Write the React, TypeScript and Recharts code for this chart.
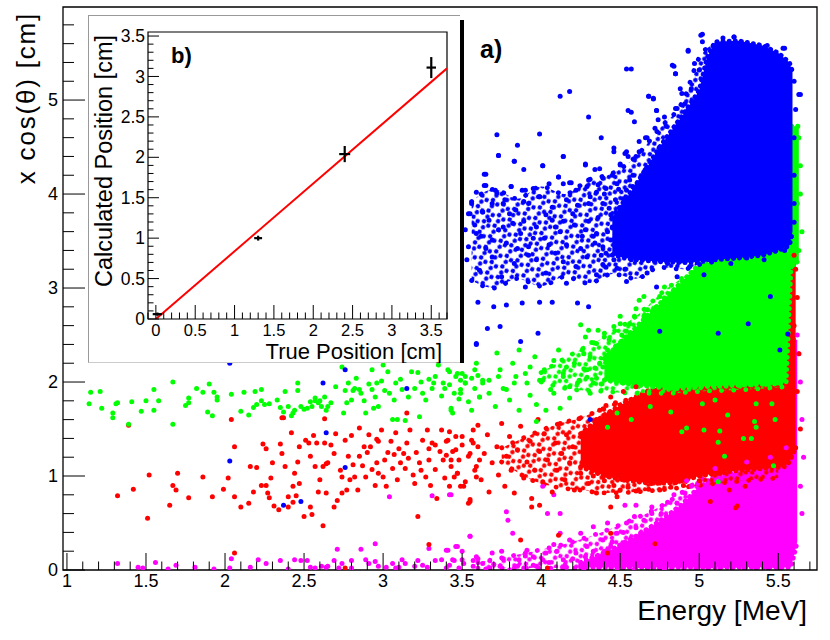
import React from 'react';
import { ComposedChart, Scatter, Area, Line, XAxis, YAxis, ReferenceArea, ErrorBar } from 'recharts';

const FONT = '"Liberation Sans", Arial, Helvetica, sans-serif';

// ================= main plot a) : x cos(theta) vs Energy =================
const magentaPts: number[][] = [
  [1.32,0.07],[1.45,0.03],[1.48,0.02],[1.56,0.08],[1.64,0.01],[1.69,0.05],[1.81,0.03],[1.93,0.01],[2.03,0.02],[2.04,0.12],
  [2.16,0.03],[2.21,0.11],[2.26,0.07],[2.35,0.1],[2.40,0.01],[2.44,0.11],[2.48,0.1],[2.52,0.1],[2.54,0.03],[2.57,0.02],
  [2.61,0.04],[2.64,0.03],[2.65,0.04],[2.69,0.1],[2.71,0.22],[2.72,0.02],[2.74,0.07],[2.80,0.1],[2.80,0.02],[2.86,0.22],
  [2.89,0.11],[2.91,0.07],[2.95,0.28],[2.95,0.09],[2.97,0.04],[3.02,0.03],[3.06,0.07],[3.08,0.02],[3.10,0.03],[3.12,0.11],
  [3.14,0.07],[3.20,0.04],[3.22,0.1],[3.25,0.05],[3.28,0.03],[3.29,0.23],[3.33,0.1],[3.37,0.11],[3.40,0.21],[3.42,0.05],
  [3.45,0.1],[3.47,0.25],[3.50,0.2],[3.51,0.07],[3.55,0.36],[3.57,0.1],[3.60,0.12],[3.04,0.78],[3.31,0.79],[3.43,0.8],
  [3.41,0.21],[3.46,0.25],[3.44,0.11],[3.50,0.11],[3.55,0.36],[3.59,0.14],[3.63,0.07],[3.69,0.18],[3.76,0.12],[3.78,0.62],
  [3.79,0.53],[3.82,0.39],[3.86,0.11],[3.91,0.21],[3.95,0.14],[4.01,0.11],[4.03,0.18],[4.04,0.6],[4.08,0.27],[4.12,0.6],
  [4.12,0.39],[4.14,0.11],[4.18,0.32],[4.22,0.18],[4.25,0.39],[4.29,0.25],[4.33,0.46],[4.35,0.11],[4.39,0.32],[4.42,0.5],
  [4.44,0.25],[4.48,0.39],[4.50,0.11],[4.53,0.69],[4.54,0.5],[4.57,0.32],[4.59,0.57],[4.60,0.69],[4.63,0.39],[4.65,0.53],
  [4.67,0.18],[4.70,0.67],[4.73,0.46],[4.76,0.6],[4.78,0.32],[4.82,0.57],[4.84,0.8],[4.86,0.71],[4.91,0.82],[4.95,0.89],
  [4.99,0.92],[5.65,0.6],[5.64,0.89],[4.01,0.89],[4.08,0.8],[3.42,0.8],
  [3.40,0.02],[3.48,0.02],[3.57,0.04],[3.65,0.01],[3.74,0.04],[3.80,0.0],[3.89,0.02],[3.97,0.04],[4.06,0.01],[4.16,0.03],
  [4.27,0.01],[4.37,0.04],[4.48,0.02],[4.59,0.01],[4.69,0.04],[4.78,0.01],
  [4.4,0.2],[4.42,0.1],[4.45,0.3],[4.47,0.05],[4.5,0.22],[4.52,0.4],[4.38,0.15],[4.36,0.08],[4.33,0.2],[4.3,0.06],
  [4.28,0.14],[4.25,0.05],[4.2,0.12],[4.15,0.05],[4.1,0.2],[4.05,0.08],[3.95,0.05],[3.9,0.15],[3.85,0.04],[3.7,0.06],
  [3.75,0.2],[4.6,0.45],[4.7,0.6],[4.8,0.72],[4.92,0.95],[5.1,1.08],[5.3,1.15],[5.45,1.2],[5.55,1.3],
  [5.63,2.3],[5.64,2.0],[5.65,1.6],[5.66,1.2],[5.62,2.5],
];

const redPts: number[][] = [
  [1.32,0.79],[1.42,0.86],[1.51,0.55],[1.52,1.01],[1.65,0.69],[1.67,0.9],[1.69,0.85],[1.70,1.03],[1.77,0.77],[1.86,0.99],
  [1.92,0.78],[1.99,0.86],[2.02,0.98],[2.04,1.6],[2.06,0.78],[2.06,1.31],[2.10,0.67],[2.15,0.71],[2.16,1.1],[2.18,0.83],
  [2.20,1.09],[2.24,1.34],[2.26,0.9],[2.26,1.29],[2.27,0.82],[2.28,0.77],[2.29,0.98],[2.31,0.68],[2.34,0.64],[2.35,1.34],
  [2.36,1.24],[2.37,1.62],[2.38,1.1],[2.40,0.67],[2.42,1.46],[2.43,0.72],[2.44,1.03],[2.45,0.79],[2.46,1.15],[2.47,0.92],
  [2.47,1.31],[2.50,0.57],[2.51,1.38],[2.53,1.35],[2.54,0.67],[2.55,0.59],[2.56,1.43],[2.57,1.1],[2.58,1.35],[2.59,0.83],
  [2.60,0.96],[2.62,1.1],[2.62,0.47],[2.63,1.35],[2.64,0.82],[2.65,1.14],[2.67,1.33],[2.69,0.67],[2.70,1.45],[2.71,0.74],
  [2.73,1.06],[2.74,0.99],[2.76,1.38],[2.77,0.85],[2.78,1.21],[2.80,1.43],[2.81,1.12],[2.82,0.99],[2.84,0.85],[2.85,1.51],
  [2.85,1.21],[2.87,1.11],[2.89,0.99],[2.90,1.25],[2.91,1.44],[2.93,1.07],[2.95,0.9],[2.96,1.39],[2.96,1.14],[2.97,1.37],
  [2.99,1.49],[3.0,0.99],[3.02,0.89],[3.03,1.25],[3.05,1.37],[3.06,1.08],[3.08,1.46],[3.09,0.96],[3.10,1.29],[3.13,1.24],
  [3.14,1.08],[3.15,1.35],[3.17,1.49],[3.19,1.01],[3.20,0.92],[3.21,1.25],[3.22,0.57],[3.23,1.14],[3.25,1.38],[3.27,0.99],
  [3.28,1.49],[3.29,1.17],[3.30,0.9],[3.31,1.35],[3.33,1.07],[3.34,0.76],[3.36,1.26],[3.37,1.49],[3.38,1.17],[3.39,0.98],
  [3.41,1.38],[3.42,0.89],[3.43,1.1],[3.44,1.26],[3.46,1.42],[3.47,1.03],[3.48,1.17],[3.50,1.33],[3.52,0.94],[3.54,0.71],
  [3.55,1.24],[3.57,1.49],[3.58,1.06],[3.60,1.31],[3.61,1.17],[3.59,0.99],[3.56,1.38],[3.49,0.89],[3.45,0.99],[3.40,1.22],
  [3.33,1.33],[3.29,1.29],[3.24,1.06],[3.16,1.19],[3.11,1.14],[3.07,1.23],[3.01,1.17],[2.97,1.03],[2.92,1.31],[2.88,1.31],
  [2.79,0.96],[2.74,0.82],[2.69,1.24],[2.64,1.13],[2.54,1.21],[2.43,0.89],[2.40,0.78],[2.30,1.14],[2.23,0.9],[1.39,1.54],
  [2.36,1.62],[2.63,1.61],[3.15,1.67],[3.29,0.27],[2.76,0.02],[2.06,0.18],
  [3.40,1.37],[3.42,1.47],[3.43,1.17],[3.46,1.28],[3.47,1.03],[3.50,1.42],[3.51,0.89],[3.54,1.21],[3.55,0.75],[3.57,1.35],
  [3.59,1.1],[3.60,1.54],[3.62,0.96],[3.64,1.24],[3.66,1.44],[3.67,0.83],[3.69,1.14],[3.72,1.31],[3.73,1.01],[3.75,1.56],
  [3.77,0.89],[3.78,1.21],[3.80,1.42],[3.81,1.06],[3.83,0.82],[3.85,1.28],[3.87,1.53],[3.89,0.98],[3.91,1.15],[3.93,1.37],
  [3.94,0.76],[3.96,1.06],[3.98,1.6],[3.99,1.26],[4.01,0.94],[4.02,1.45],[4.04,1.17],[4.07,0.83],[4.09,1.35],[4.10,1.06],
  [4.12,1.56],[4.13,1.24],[4.15,0.96],[4.16,1.44],[4.18,1.14],[4.20,1.31],[4.21,0.85],[4.24,1.61],[4.25,1.03],[4.27,1.38],
  [4.28,1.21],[4.30,0.92],[4.31,1.53],[4.32,1.1],[4.33,1.29],[4.35,0.82],[4.37,1.7],[4.39,0.99],[4.42,1.42],[4.44,1.84],
  [3.99,0.69],[3.94,0.67],[4.44,0.67],[4.48,0.78],[3.55,0.73],[3.87,0.32],[4.11,0.37],[4.42,0.18],[4.44,0.39],[4.72,0.28],
  [5.24,0.68],[5.23,0.66],[5.07,0.73],[5.19,0.85],[5.29,0.89],[4.04,0.02],
  [4.31,1.38],[4.33,1.0],[4.35,1.6],[4.36,1.2],[4.38,1.45],[4.39,1.12],[4.4,0.95],[4.41,1.75],[4.43,1.3],[4.44,1.05],
  [4.45,1.55],[4.46,0.9],[4.47,1.78],[4.5,0.85],[4.55,0.88],[4.6,0.84],[4.68,0.86],[4.75,0.85],[4.82,0.88],[4.9,0.9],
  [5.0,0.95],[4.52,1.9],[4.6,1.95],
  [5.61,3.2],[5.62,2.9],[5.6,2.6],[5.63,2.3],[5.62,1.9],[5.64,1.5],[5.61,1.3],[5.6,3.35],
];

const greenPts: number[][] = [
  [1.14,1.77],[1.15,1.89],[1.21,1.9],[1.22,1.72],[1.29,1.67],[1.29,1.62],[1.31,1.77],[1.32,1.78],[1.39,1.55],[1.41,1.79],
  [1.47,1.69],[1.50,1.8],[1.55,1.92],[1.55,1.7],[1.58,1.8],[1.67,2.0],[1.67,1.55],[1.75,1.75],[1.77,1.83],[1.77,1.78],
  [1.82,1.93],[1.86,1.89],[1.89,1.68],[1.90,1.98],[1.92,1.64],[1.93,1.89],[1.95,1.84],[1.95,1.81],[2.04,1.87],[2.10,1.69],
  [2.12,1.89],[2.15,1.65],[2.18,1.73],[2.19,1.9],[2.20,1.76],[2.23,1.92],[2.23,1.8],[2.25,1.76],[2.28,1.77],[2.33,1.81],
  [2.35,1.73],[2.37,1.68],[2.38,1.9],[2.40,1.74],[2.42,1.64],[2.43,1.67],[2.44,1.7],[2.46,1.99],[2.46,1.91],[2.48,1.74],
  [2.50,1.71],[2.52,1.72],[2.54,1.79],[2.55,1.74],[2.57,1.83],[2.57,1.8],[2.59,1.78],[2.60,1.8],[2.61,1.74],[2.63,1.84],
  [2.64,1.7],[2.65,1.74],[2.67,1.78],[2.70,1.95],[2.74,2.16],[2.75,1.67],[2.76,1.91],[2.77,1.78],[2.78,1.99],[2.81,1.91],
  [2.82,1.93],[2.83,2.04],[2.85,1.92],[2.86,1.88],[2.88,1.8],[2.89,1.67],[2.91,1.98],[2.93,1.92],[2.95,1.84],[2.96,1.99],
  [2.97,1.74],[2.99,2.01],[3.0,2.18],[3.01,1.91],[3.03,2.11],[3.04,1.88],[3.06,1.6],[3.07,1.81],[3.08,1.99],[3.09,1.6],
  [3.11,2.03],[3.12,1.92],[3.14,1.59],[3.16,1.84],[3.18,2.11],[3.20,1.93],[3.22,2.1],[3.23,1.63],[3.24,2.0],[3.25,1.88],
  [3.27,1.81],[3.29,2.03],[3.31,1.93],[3.32,1.99],[3.33,2.06],[3.35,2.18],[3.37,1.85],[3.38,1.99],[3.39,1.93],[3.42,2.11],
  [3.43,1.7],[3.45,1.88],[3.46,2.06],[3.48,1.82],[3.49,1.92],[3.50,2.09],[3.52,1.99],[3.54,1.79],[3.56,2.04],[3.58,1.93],
  [3.60,2.07],[3.61,1.84],[2.93,2.13],[2.80,1.81],[2.94,1.72],[3.49,2.02],
  [3.52,2.06],[3.59,2.2],[3.63,1.99],[3.67,2.02],[3.72,2.31],[3.74,2.13],[3.78,1.92],[3.82,2.2],[3.84,2.06],[3.86,2.34],
  [3.91,1.99],[3.93,2.16],[3.96,2.27],[3.99,2.02],[4.02,2.13],[4.06,1.92],[4.08,2.23],[4.11,2.34],[4.14,2.06],[4.16,2.16],
  [4.18,1.95],[4.21,2.2],[4.24,2.02],[4.26,2.34],[4.28,2.48],[4.29,2.13],[4.31,2.27],[4.33,1.99],[4.35,2.41],[4.37,2.2],
  [4.40,2.52],[4.42,2.34],[4.44,2.06],[4.46,2.59],[4.48,2.27],[4.50,2.41],[4.52,1.99],[4.54,2.54],[4.56,2.2],[4.59,2.7],
  [4.61,2.34],[4.63,2.48],[4.65,2.13],[4.67,2.77],[4.69,2.59],[4.71,2.31],[4.73,2.8],[4.76,2.48],[4.78,2.87],[4.80,2.66],
  [4.82,2.34],[4.84,2.91],[4.86,2.77],[4.88,2.94],[4.90,2.48],[4.93,2.98],[4.95,2.8],[4.97,3.05],[4.99,2.91],[5.01,3.12],
  [5.03,3.01],[4.25,2.61],[4.30,2.55],[4.75,2.91],[4.65,2.7],[4.82,2.77],[4.78,3.01],[4.86,2.91],[4.89,2.93],[4.65,2.91],
  [4.50,2.62],[4.54,2.43],
  [3.41,2.13],[3.42,1.97],[3.43,1.72],[3.44,1.67],[3.47,2.09],[3.49,1.88],[3.52,1.99],[3.56,1.70],[3.58,2.13],[3.61,1.84],
  [3.63,2.02],[3.67,1.88],[3.71,1.74],[3.73,2.06],[3.76,1.93],[3.80,1.81],[3.83,1.99],[3.86,1.70],[3.90,2.09],[3.93,1.86],
  [3.97,1.76],[4.01,2.02],[4.03,1.70],[4.08,1.88],[4.12,1.72],[4.14,2.09],[4.18,1.83],[4.23,1.99],[4.27,2.14],[4.31,1.88],
  [4.35,2.04],[4.39,2.16],
  [3.97,1.58],[4.42,1.52],[4.48,1.67],[4.57,1.60],[4.69,1.74],[4.82,1.68],[4.89,1.47],[4.92,1.51],[5.03,1.49],[5.12,1.36],
  [5.13,1.48],[5.16,1.21],[5.18,1.65],[5.28,1.40],[5.33,1.40],[5.35,1.58],[5.36,1.52],[5.48,1.60],[5.47,1.11],[5.12,0.94],
  [5.02,1.77],[5.10,1.81],[5.36,1.77],[5.46,1.77],
  [4.27,2.3],[4.29,2.05],[4.32,2.42],[4.34,2.15],[4.36,2.55],[4.38,1.98],[4.41,2.28],[4.43,2.45],[4.45,2.15],[4.47,2.38],
  [4.49,2.02],[4.51,2.5],[4.53,2.25],[4.56,2.62],[4.58,2.05],[4.6,2.78],[4.62,2.87],[4.5,2.7],
  [5.63,4.6],[5.64,4.3],[5.62,3.9],[5.65,3.6],[5.63,3.4],[5.64,4.0],
];

const bluePts: number[][] = [
  [2.03,2.2],[2.62,1.99],[2.76,2.13],[3.15,1.93],[2.64,1.46],[2.76,1.09],[2.03,1.16],[2.37,0.69],[2.48,0.73],[3.59,2.4],
  [4.31,1.6],[5.31,2.62],[5.12,2.52],[5.51,2.34],[5.45,2.91],[5.56,2.51],[4.75,2.54],
  [3.73,4.41],[3.83,4.35],[4.14,4.40],[4.01,4.30],[4.28,4.32],[3.64,4.21],[3.89,4.26],[4.11,4.18],[4.18,4.12],[4.30,4.15],
  [4.39,4.17],[4.46,4.45],[4.54,4.45],[4.60,4.40],[4.66,4.26],[4.50,4.31],[4.56,4.15],[4.34,4.26],
  [3.54,3.79],[3.64,4.09],[3.71,4.04],[3.81,4.08],[3.88,4.04],[3.95,4.06],[4.05,4.11],[4.14,4.11],[4.22,4.04],[4.29,4.08],
  [4.35,4.02],[4.41,4.06],[4.48,4.11],[4.54,4.04],[4.58,4.08],[4.65,3.97],[4.71,4.04],[3.56,3.90],[3.63,3.81],[3.69,3.90],
  [3.77,3.94],[3.84,3.83],[3.92,3.90],[3.99,3.97],[4.07,3.86],[4.16,3.94],[4.23,3.88],[4.31,3.97],[4.39,3.90],[4.47,3.94],
  [4.52,3.85],[4.60,3.88],[4.67,3.83],[4.73,3.90],[4.77,3.97],[3.59,4.02],[3.80,3.79],[4.03,3.78],[4.20,3.79],[4.44,3.78],
  [4.69,3.78],
  [3.52,3.62],[3.58,3.67],[3.62,3.55],[3.67,3.72],[3.73,3.62],[3.78,3.48],[3.82,3.69],[3.87,3.58],[3.92,3.44],[3.97,3.65],
  [4.02,3.53],[4.07,3.72],[4.12,3.60],[4.16,3.46],[4.21,3.67],[4.26,3.55],[4.30,3.71],[4.35,3.58],[4.39,3.44],[4.45,3.65],
  [4.50,3.55],[4.54,3.71],[4.60,3.60],[4.64,3.46],[4.69,3.67],[4.74,3.55],[4.79,3.69],[3.54,3.44],[3.65,3.42],[3.76,3.65],
  [3.85,3.42],[3.95,3.53],[4.05,3.46],[4.14,3.71],[4.25,3.42],[4.34,3.48],[4.44,3.51],[4.52,3.42],[4.63,3.65],[4.72,3.44],
  [4.81,3.48],[3.59,3.58],[3.69,3.51],[3.89,3.71],[4.09,3.65],[4.28,3.62],[4.48,3.62],[4.68,3.56],
  [3.53,3.30],[3.61,3.19],[3.69,3.33],[3.75,3.12],[3.83,3.26],[3.90,3.01],[3.97,3.30],[4.03,3.16],[4.09,3.37],[4.16,3.05],
  [4.22,3.23],[4.29,3.33],[4.35,3.14],[4.41,3.37],[4.48,3.21],[4.54,3.07],[4.60,3.30],[4.67,3.16],[4.73,3.01],[4.80,3.26],
  [4.86,3.12],[4.94,3.23],[5.03,3.14],[3.60,2.85],[3.70,2.80],[3.78,2.82],[3.88,2.84],[3.99,2.85],[4.07,2.85],[4.23,2.84],
  [4.30,2.80],[3.74,2.59],[3.66,2.57],[3.59,2.41],[3.98,2.52],[3.87,2.43],[3.92,3.35],[4.14,3.28],[4.39,3.25],[4.56,3.40],
  [4.78,3.39],[4.90,3.30],[4.99,3.35],[5.09,3.30],[5.20,3.26],[5.30,3.32],[5.41,3.30],[5.54,3.40],
  [4.12,5.04],[4.18,5.09],[4.30,4.82],[3.72,4.63],[3.73,4.41],[3.85,4.52],[3.99,4.64],[3.83,4.35],[4.01,4.30],[4.14,4.40],
  [3.65,4.21],[3.65,4.09],[3.81,4.08],[4.38,4.60],[4.54,5.33],[4.57,5.33],[4.68,5.04],[4.71,5.02],[4.55,4.89],[4.57,4.87],
  [4.59,4.77],[4.73,4.89],[4.74,4.79],[4.72,4.70],[4.83,5.37],[4.85,5.28],[4.88,5.12],[4.95,5.12],[4.89,5.07],[4.93,5.53],
  [4.97,5.39],[5.00,5.32],[5.01,5.69],[5.02,5.62],[5.09,5.57],[5.22,5.67],[5.15,5.66],[5.43,5.58],[5.53,5.55],[5.63,5.06],
  [4.11,4.18],[4.19,4.12],[4.28,4.31],[4.37,4.27],[4.46,4.49],[4.53,4.43],[4.62,4.56],[4.66,4.60],[4.78,4.82],[4.79,4.72],
  [4.85,4.91],[4.91,4.96],[3.90,4.04],[3.99,3.97],[3.89,3.92],[3.76,3.90],[3.72,4.01],[3.63,3.81],[3.55,3.79],
  [5.02,5.70],[5.22,5.67],[4.93,5.52],[4.84,5.36],[4.85,5.28],[4.68,5.04],[4.71,5.01],[5.64,5.06],[4.73,4.89],[4.86,4.91],
  [4.67,4.60],[5.54,5.55],
  [4.3,3.9],[4.33,3.55],[4.36,3.75],[4.38,3.35],[4.4,4.0],[4.42,3.6],[4.43,3.85],[4.46,3.3],[4.47,3.72],[4.49,4.05],
  [4.51,3.48],[4.52,3.95],[4.55,3.62],[4.56,3.83],[4.57,3.3],[4.58,4.2],[4.59,3.52],[4.61,4.0],[4.62,3.75],[4.41,3.22],
  [4.53,3.2],[4.36,4.1],[4.45,4.2],[4.5,4.32],[4.55,4.4],[4.62,4.45],
  [5.6,5.2],[5.61,4.9],[5.6,4.6],[5.6,4.2],[5.6,3.9],[5.6,3.7],
];

// medium-density zones (energy, lower edge, upper edge)
const magentaMidX = [3.6, 3.9, 4.2, 4.5, 4.8, 5.0, 5.3, 5.55];
const magentaMidLo = [0.02, 0.02, 0.02, 0.02, 0.02, 0.02, 0.02, 0.02];
const magentaMidHi = [0.08, 0.18, 0.3, 0.48, 0.72, 0.95, 1.15, 1.2];

const redMidX = [3.75, 3.95, 4.1, 4.25, 4.4, 4.6, 4.8, 5.1, 5.5];
const redMidLo = [1.15, 0.95, 0.88, 0.85, 0.82, 0.83, 0.86, 0.92, 0.98];
const redMidHi = [1.3, 1.45, 1.55, 1.62, 1.72, 1.85, 2.0, 2.15, 2.25];

const greenMidX = [4.0, 4.2, 4.4, 4.6, 4.8, 5.0, 5.3, 5.55];
const greenMidLo = [2.0, 1.92, 1.9, 1.88, 1.88, 1.9, 1.92, 1.95];
const greenMidHi = [2.1, 2.3, 2.48, 2.7, 3.0, 3.2, 3.3, 3.4];

const blueMidX = [3.56, 3.7, 3.85, 4.0, 4.15, 4.3, 4.45, 4.6, 4.75, 4.9, 5.0, 5.1];
const blueMidLo = [3.08, 3.0, 3.1, 3.02, 3.12, 3.05, 3.15, 3.1, 3.22, 3.2, 3.25, 3.28];
const blueMidHi = [3.92, 4.05, 3.95, 4.08, 4.0, 4.15, 4.22, 4.4, 4.7, 5.0, 5.45, 5.6];

// dense cores (energy, lower edge, upper edge)
const magentaCoreX = [4.25, 4.45, 4.6, 4.75, 4.88, 4.98, 5.08, 5.2, 5.35, 5.5, 5.56, 5.58, 5.62];
const magentaCoreLo = [0.03, 0.03, 0.03, 0.03, 0.03, 0.03, 0.03, 0.03, 0.03, 0.03, 0.03, 0.03, 0.3];
const magentaCoreHi = [0.08, 0.22, 0.36, 0.52, 0.68, 0.85, 0.98, 1.03, 1.08, 1.12, 1.5, 2.45, 2.45];

const redCoreX = [4.25, 4.4, 4.55, 4.7, 4.85, 5.0, 5.2, 5.4, 5.54, 5.57, 5.61];
const redCoreLo = [1.1, 1.0, 0.95, 0.92, 0.93, 1.0, 1.05, 1.08, 1.1, 1.15, 1.3];
const redCoreHi = [1.45, 1.65, 1.8, 1.92, 2.02, 2.1, 2.2, 2.25, 2.3, 3.35, 3.3];

const greenCoreX = [4.4, 4.55, 4.7, 4.85, 5.0, 5.3, 5.5, 5.55, 5.58, 5.63];
const greenCoreLo = [2.02, 1.98, 1.95, 1.93, 1.95, 1.97, 1.98, 2.0, 3.2, 3.3];
const greenCoreHi = [2.25, 2.5, 2.75, 3.0, 3.25, 3.35, 3.4, 3.5, 4.72, 4.72];

const blueCoreX = [4.45, 4.6, 4.75, 4.9, 5.0, 5.05, 5.1, 5.25, 5.4, 5.5, 5.57, 5.59];
const blueCoreLo = [3.35, 3.3, 3.28, 3.27, 3.28, 3.3, 3.3, 3.32, 3.35, 3.4, 3.45, 3.6];
const blueCoreHi = [3.75, 4.1, 4.5, 4.85, 5.1, 5.45, 5.62, 5.63, 5.58, 5.5, 5.4, 5.3];

const mainXDomain = [0.975, 5.745];
const mainYDomain = [0, 5.99];
const mainXTicks = [1, 1.1, 1.2, 1.3, 1.4, 1.5, 1.6, 1.7, 1.8, 1.9, 2, 2.1, 2.2, 2.3, 2.4, 2.5, 2.6, 2.7, 2.8, 2.9,
  3, 3.1, 3.2, 3.3, 3.4, 3.5, 3.6, 3.7, 3.8, 3.9, 4, 4.1, 4.2, 4.3, 4.4, 4.5, 4.6, 4.7, 4.8, 4.9,
  5, 5.1, 5.2, 5.3, 5.4, 5.5, 5.6, 5.7];
const mainYTicks = [0, 0.2, 0.4, 0.6, 0.8, 1, 1.2, 1.4, 1.6, 1.8, 2, 2.2, 2.4, 2.6, 2.8, 3, 3.2, 3.4, 3.6, 3.8,
  4, 4.2, 4.4, 4.6, 4.8, 5, 5.2, 5.4, 5.6, 5.8];

// ================= inset b) : calculated vs true position =================
const trueIns = [0.02, 1.3, 2.4, 3.5];
const calcIns = [0.06, 1.0, 2.04, 3.11];
const errTrue = [0.06, 0.05, 0.07, 0.06];
const errCalc = [0.02, 0.03, 0.1, 0.13];
const fitX = [0, 3.7];
const fitY = [0, 3.1];
const insXDomain = [-0.1, 3.7];
const insYDomain = [0, 3.55];
const insXTicks = [-0.1, 0, 0.1, 0.2, 0.3, 0.4, 0.5, 0.6, 0.7, 0.8, 0.9, 1, 1.1, 1.2, 1.3, 1.4, 1.5, 1.6, 1.7, 1.8, 1.9,
  2, 2.1, 2.2, 2.3, 2.4, 2.5, 2.6, 2.7, 2.8, 2.9, 3, 3.1, 3.2, 3.3, 3.4, 3.5, 3.6, 3.7];
const insYTicks = [0, 0.1, 0.2, 0.3, 0.4, 0.5, 0.6, 0.7, 0.8, 0.9, 1, 1.1, 1.2, 1.3, 1.4, 1.5, 1.6, 1.7, 1.8, 1.9,
  2, 2.1, 2.2, 2.3, 2.4, 2.5, 2.6, 2.7, 2.8, 2.9, 3, 3.1, 3.2, 3.3, 3.4, 3.5];

// ---------- builders ----------
const toPts = (arr: number[][]) => arr.map(([x, y]) => ({ x, y }));
const toBand = (xs: number[], lo: number[], hi: number[]) => xs.map((x, i) => ({ x, band: [lo[i], hi[i]] }));

const MAGENTA = '#ff00ff';
const RED = '#ff0000';
const GREEN = '#00ff00';
const BLUE = '#0000ff';

const layers = [
  { id: 'm', color: MAGENTA, pts: toPts(magentaPts), mid: toBand(magentaMidX, magentaMidLo, magentaMidHi), core: toBand(magentaCoreX, magentaCoreLo, magentaCoreHi) },
  { id: 'r', color: RED, pts: toPts(redPts), mid: toBand(redMidX, redMidLo, redMidHi), core: toBand(redCoreX, redCoreLo, redCoreHi) },
  { id: 'g', color: GREEN, pts: toPts(greenPts), mid: toBand(greenMidX, greenMidLo, greenMidHi), core: toBand(greenCoreX, greenCoreLo, greenCoreHi) },
  { id: 'b', color: BLUE, pts: toPts(bluePts), mid: toBand(blueMidX, blueMidLo, blueMidHi), core: toBand(blueCoreX, blueCoreLo, blueCoreHi) },
];

const insData = trueIns.map((x, i) => ({ x, y: calcIns[i], ex: errTrue[i], ey: errCalc[i] }));
const fitData = fitX.map((x, i) => ({ x, y: fitY[i] }));

const isMult = (v: number, step: number) => Math.abs(v / step - Math.round(v / step)) < 1e-6;
const fmt = (v: number) => String(Math.round(v * 10) / 10);

const makeXTick = (step: number, majorLen: number, minorLen: number, fontSize: number, dy: number) => (props: any) => {
  const { x, y, payload } = props;
  const v = payload.value;
  const major = isMult(v, step);
  return (
    <g>
      <line x1={x} x2={x} y1={y} y2={y - (major ? majorLen : minorLen)} stroke="#000" strokeWidth={1} />
      {major ? (
        <text x={x} y={y + dy} textAnchor="middle" fontSize={fontSize} fontFamily={FONT} fill="#000">{fmt(v)}</text>
      ) : null}
    </g>
  );
};

const makeYTick = (step: number, majorLen: number, minorLen: number, fontSize: number, gap: number) => (props: any) => {
  const { x, y, payload } = props;
  const v = payload.value;
  const major = isMult(v, step);
  return (
    <g>
      <line x1={x} x2={x + (major ? majorLen : minorLen)} y1={y} y2={y} stroke="#000" strokeWidth={1} />
      {major ? (
        <text x={x - gap} y={y + fontSize * 0.35} textAnchor="end" fontSize={fontSize} fontFamily={FONT} fill="#000">{fmt(v)}</text>
      ) : null}
    </g>
  );
};

const dot = (color: string) => (props: any) => <circle cx={props.cx} cy={props.cy} r={2.5} fill={color} />;
const noShape = () => <g />;

const MainXTick = makeXTick(0.5, 17, 8.5, 18, 17);
const MainYTick = makeYTick(1, 22, 11, 18, 5);
const InsXTick = makeXTick(0.5, 14, 6.5, 16.5, 16.5);
const InsYTick = makeYTick(0.5, 11, 5.5, 17.5, 3);

export default function App() {
  return (
    <div style={{ position: 'absolute', left: 0, top: 0, width: 830, height: 640, background: '#fff', fontFamily: FONT }}>
      <ComposedChart width={830} height={640} margin={{ top: 7, right: 13, bottom: 0, left: 0 }}>
        <defs>
          {layers.map((l) => (
            <pattern key={l.id} id={`pat-${l.id}`} width={11.5} height={11.5} patternUnits="userSpaceOnUse" patternTransform="rotate(23)">
              <circle cx={3} cy={3} r={2.2} fill={l.color} />
              <circle cx={8.6} cy={5.4} r={2.2} fill={l.color} />
              <circle cx={4.4} cy={9} r={2.2} fill={l.color} />
            </pattern>
          ))}
        </defs>
        <XAxis
          type="number"
          dataKey="x"
          domain={mainXDomain}
          allowDataOverflow
          ticks={mainXTicks}
          interval={0}
          tick={MainXTick}
          tickLine={false}
          axisLine={false}
          tickSize={0}
          tickMargin={0}
          height={70}
          label={{
            content: (p: any) => (
              <text x={p.viewBox.x + p.viewBox.width - 10} y={p.viewBox.y + 50} textAnchor="end" fontSize={28} fontFamily={FONT} fill="#000">
                Energy [MeV]
              </text>
            ),
          }}
        />
        <YAxis
          type="number"
          dataKey="y"
          domain={mainYDomain}
          allowDataOverflow
          ticks={mainYTicks}
          interval={0}
          tick={MainYTick}
          tickLine={false}
          axisLine={false}
          tickSize={0}
          tickMargin={0}
          width={63}
          label={{
            content: (p: any) => (
              <text x={35} y={p.viewBox.y + 5} transform={`rotate(-90, 35, ${p.viewBox.y + 5})`} textAnchor="end" fontSize={26} letterSpacing={1.8} fontFamily={FONT} fill="#000">
                x cos(θ) [cm]
              </text>
            ),
          }}
        />
        {layers.flatMap((l) => [
          <Area
            key={`${l.id}-mid`}
            data={l.mid}
            dataKey="band"
            type="monotone"
            fill={`url(#pat-${l.id})`}
            fillOpacity={1}
            stroke={l.color}
            strokeWidth={4.8}
            strokeDasharray="0.1 12"
            strokeLinecap="round"
            isAnimationActive={false}
            dot={false}
            activeDot={false}
          />,
          <Area
            key={`${l.id}-core`}
            data={l.core}
            dataKey="band"
            type="linear"
            fill={l.color}
            fillOpacity={1}
            stroke={l.color}
            strokeWidth={5}
            strokeDasharray="0.1 6"
            strokeLinecap="round"
            isAnimationActive={false}
            dot={false}
            activeDot={false}
          />,
          <Scatter key={`${l.id}-pts`} data={l.pts} fill={l.color} shape={dot(l.color)} isAnimationActive={false} />,
        ])}
        <ReferenceArea x1={mainXDomain[0]} x2={mainXDomain[1]} y1={mainYDomain[0]} y2={mainYDomain[1]} fill="none" fillOpacity={0} stroke="#000" strokeWidth={1.3} />
      </ComposedChart>

      {/* inset pad */}
      <div style={{ position: 'absolute', left: 88, top: 15, width: 372, height: 348, boxSizing: 'border-box', background: '#fff', borderLeft: '1px solid #999', borderTop: '1px solid #999', borderBottom: '1px solid #ccc' }} />
      <div style={{ position: 'absolute', left: 460, top: 20, width: 4, height: 343, background: '#000' }} />
      <div style={{ position: 'absolute', left: 88, top: 15 }}>
        <ComposedChart width={372} height={348} margin={{ top: 17, right: 13, bottom: 0, left: 0 }}>
          <XAxis
            type="number"
            dataKey="x"
            domain={insXDomain}
            allowDataOverflow
            ticks={insXTicks}
            interval={0}
            tick={InsXTick}
            tickLine={false}
            axisLine={false}
            tickSize={0}
            tickMargin={0}
            height={44}
            label={{
              content: (p: any) => (
                <text x={p.viewBox.x + p.viewBox.width - 5} y={p.viewBox.y + 40} textAnchor="end" fontSize={22} fontFamily={FONT} fill="#000">
                  True Position [cm]
                </text>
              ),
            }}
          />
          <YAxis
            type="number"
            dataKey="y"
            domain={insYDomain}
            allowDataOverflow
            ticks={insYTicks}
            interval={0}
            tick={InsYTick}
            tickLine={false}
            axisLine={false}
            tickSize={0}
            tickMargin={0}
            width={60}
            label={{
              content: (p: any) => (
                <text x={24} y={p.viewBox.y + 3} transform={`rotate(-90, 24, ${p.viewBox.y + 3})`} textAnchor="end" fontSize={23.5} fontFamily={FONT} fill="#000">
                  Calculated Position [cm]
                </text>
              ),
            }}
          />
          <Line data={fitData} dataKey="y" type="linear" stroke="#ff0000" strokeWidth={2} dot={false} activeDot={false} isAnimationActive={false} />
          <Scatter data={insData} shape={noShape} isAnimationActive={false}>
            <ErrorBar dataKey="ex" direction="x" width={0} stroke="#000" strokeWidth={2.2} />
            <ErrorBar dataKey="ey" direction="y" width={0} stroke="#000" strokeWidth={2.2} />
          </Scatter>
          <ReferenceArea x1={insXDomain[0]} x2={insXDomain[1]} y1={insYDomain[0]} y2={insYDomain[1]} fill="none" fillOpacity={0} stroke="#000" strokeWidth={1.2} />
        </ComposedChart>
      </div>

      {/* panel tags */}
      <svg width={830} height={640} style={{ position: 'absolute', left: 0, top: 0, pointerEvents: 'none' }}>
        <text x={480} y={58} fontSize={25} fontWeight="bold" fontFamily={FONT} fill="#000">a)</text>
        <text x={171} y={63} fontSize={22} fontWeight="bold" fontFamily={FONT} fill="#000">b)</text>
      </svg>
    </div>
  );
}
